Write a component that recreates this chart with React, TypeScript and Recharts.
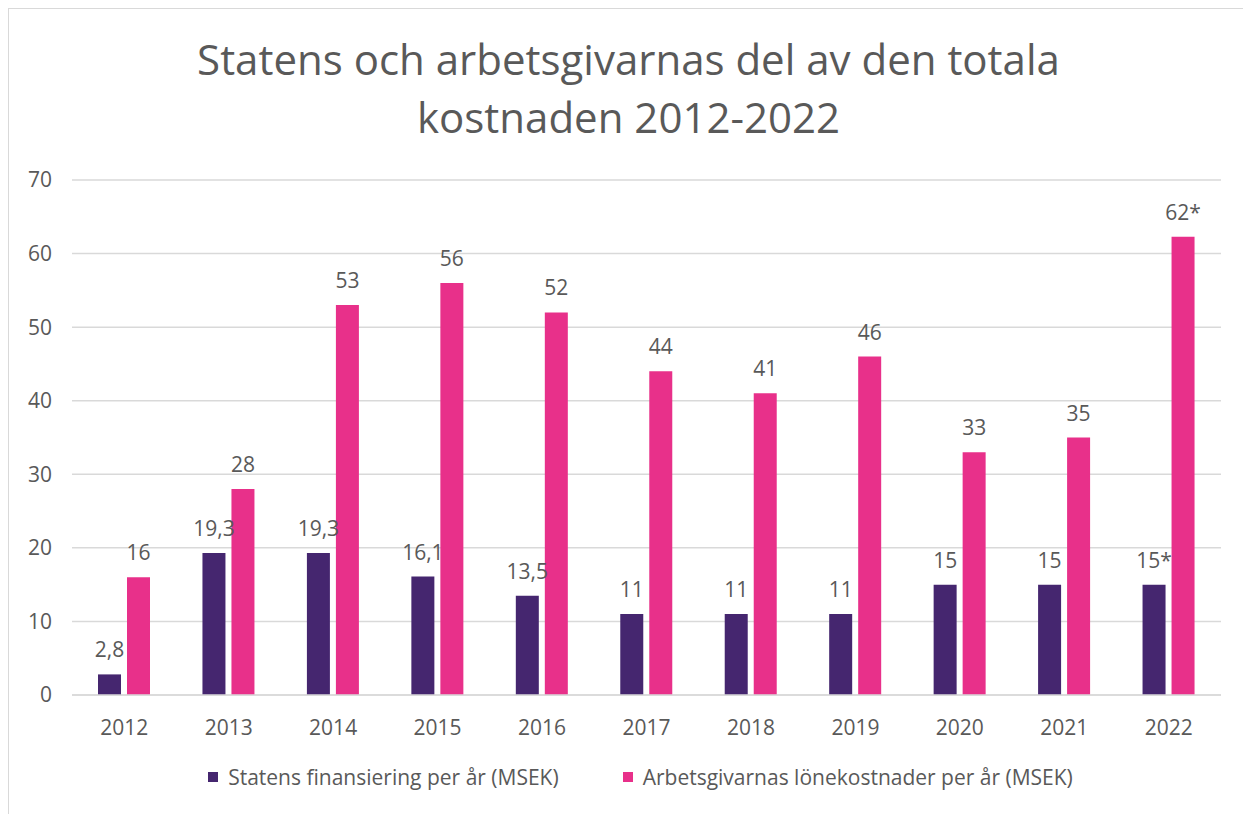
import React from "react";
import { BarChart, Bar, XAxis, YAxis, CartesianGrid, LabelList } from "recharts";

const years = ["2012", "2013", "2014", "2015", "2016", "2017", "2018", "2019", "2020", "2021", "2022"];
const statens = [2.8, 19.3, 19.3, 16.1, 13.5, 11, 11, 11, 15, 15, 15];
const arbetsgivare = [16, 28, 53, 56, 52, 44, 41, 46, 33, 35, 62.3];
const preliminaryYears = ["2022"];
const yTicks = [0, 10, 20, 30, 40, 50, 60, 70];

const seriesNames = {
  statens: "Statens finansiering per år (MSEK)",
  arbetsgivare: "Arbetsgivarnas lönekostnader per år (MSEK)",
};

const PURPLE = "#45266f";
const PINK = "#e8308a";
const TEXT = "#595959";
const FONT = "'Open Sans', sans-serif";

const data = years.map((year, i) => ({
  year,
  statens: statens[i],
  arbetsgivare: arbetsgivare[i],
}));

// statens shows one decimal (swedish comma), arbetsgivare is shown rounded
const formatValue = (v: number, decimals: boolean) =>
  decimals && !Number.isInteger(v) ? v.toFixed(1).replace(".", ",") : String(Math.round(v));

function makeLabel(key: "statens" | "arbetsgivare") {
  return (props: any) => {
    const { x, y, width, index } = props;
    const row = data[index];
    const star = preliminaryYears.includes(row.year) ? "*" : "";
    return (
      <text x={x + width / 2} y={y - 17} textAnchor="middle" fill={TEXT} fontSize={21} fontFamily={FONT}>
        {formatValue(row[key], key === "statens") + star}
      </text>
    );
  };
}

export default function App() {
  return (
    <div
      style={{
        position: "relative",
        width: 1241,
        height: 820,
        border: "1px solid #d9d9d9",
        boxSizing: "border-box",
        background: "#fff",
        fontFamily: FONT,
        overflow: "hidden",
      }}
    >
      {/* Title */}
      <div
        style={{
          position: "absolute",
          top: 21,
          left: 0,
          width: 1239,
          textAlign: "center",
          color: TEXT,
          fontSize: 42,
          lineHeight: "58px",
        }}
      >
        Statens och arbetsgivarnas del av den totala
        <br />
        kostnaden 2012-2022
      </div>

      <BarChart
        width={1239}
        height={805}
        data={data}
        margin={{ top: 171, right: 27, bottom: 79, left: 0 }}
        barGap={6}
        barSize={23}
      >
        <CartesianGrid vertical={false} stroke="#d9d9d9" strokeWidth={1.5} />
        <XAxis
          dataKey="year"
          axisLine={{ stroke: "#d9d9d9", strokeWidth: 1.5 }}
          tickLine={false}
          tickSize={0}
          tickMargin={25}
          height={40}
          tick={{ fill: TEXT, fontSize: 21, fontFamily: FONT }}
        />
        <YAxis
          domain={[0, 70]}
          ticks={yTicks}
          axisLine={false}
          tickLine={false}
          tickSize={0}
          tickMargin={20}
          width={63}
          tick={{ fill: TEXT, fontSize: 21, fontFamily: FONT }}
        />
        <Bar dataKey="statens" fill={PURPLE} isAnimationActive={false}>
          <LabelList dataKey="statens" content={makeLabel("statens")} />
        </Bar>
        <Bar dataKey="arbetsgivare" fill={PINK} isAnimationActive={false}>
          <LabelList dataKey="arbetsgivare" content={makeLabel("arbetsgivare")} />
        </Bar>
      </BarChart>

      {/* Legend */}
      <div
        style={{
          position: "absolute",
          top: 754,
          left: 12,
          width: 1239,
          display: "flex",
          justifyContent: "center",
          alignItems: "center",
          gap: 64,
          color: TEXT,
          fontSize: 21,
        }}
      >
        {[
          { name: seriesNames.statens, color: PURPLE },
          { name: seriesNames.arbetsgivare, color: PINK },
        ].map((item) => (
          <div key={item.name} style={{ display: "flex", alignItems: "center" }}>
            <span style={{ display: "inline-block", width: 10, height: 10, background: item.color, marginRight: 10 }} />
            <span>{item.name}</span>
          </div>
        ))}
      </div>
    </div>
  );
}
